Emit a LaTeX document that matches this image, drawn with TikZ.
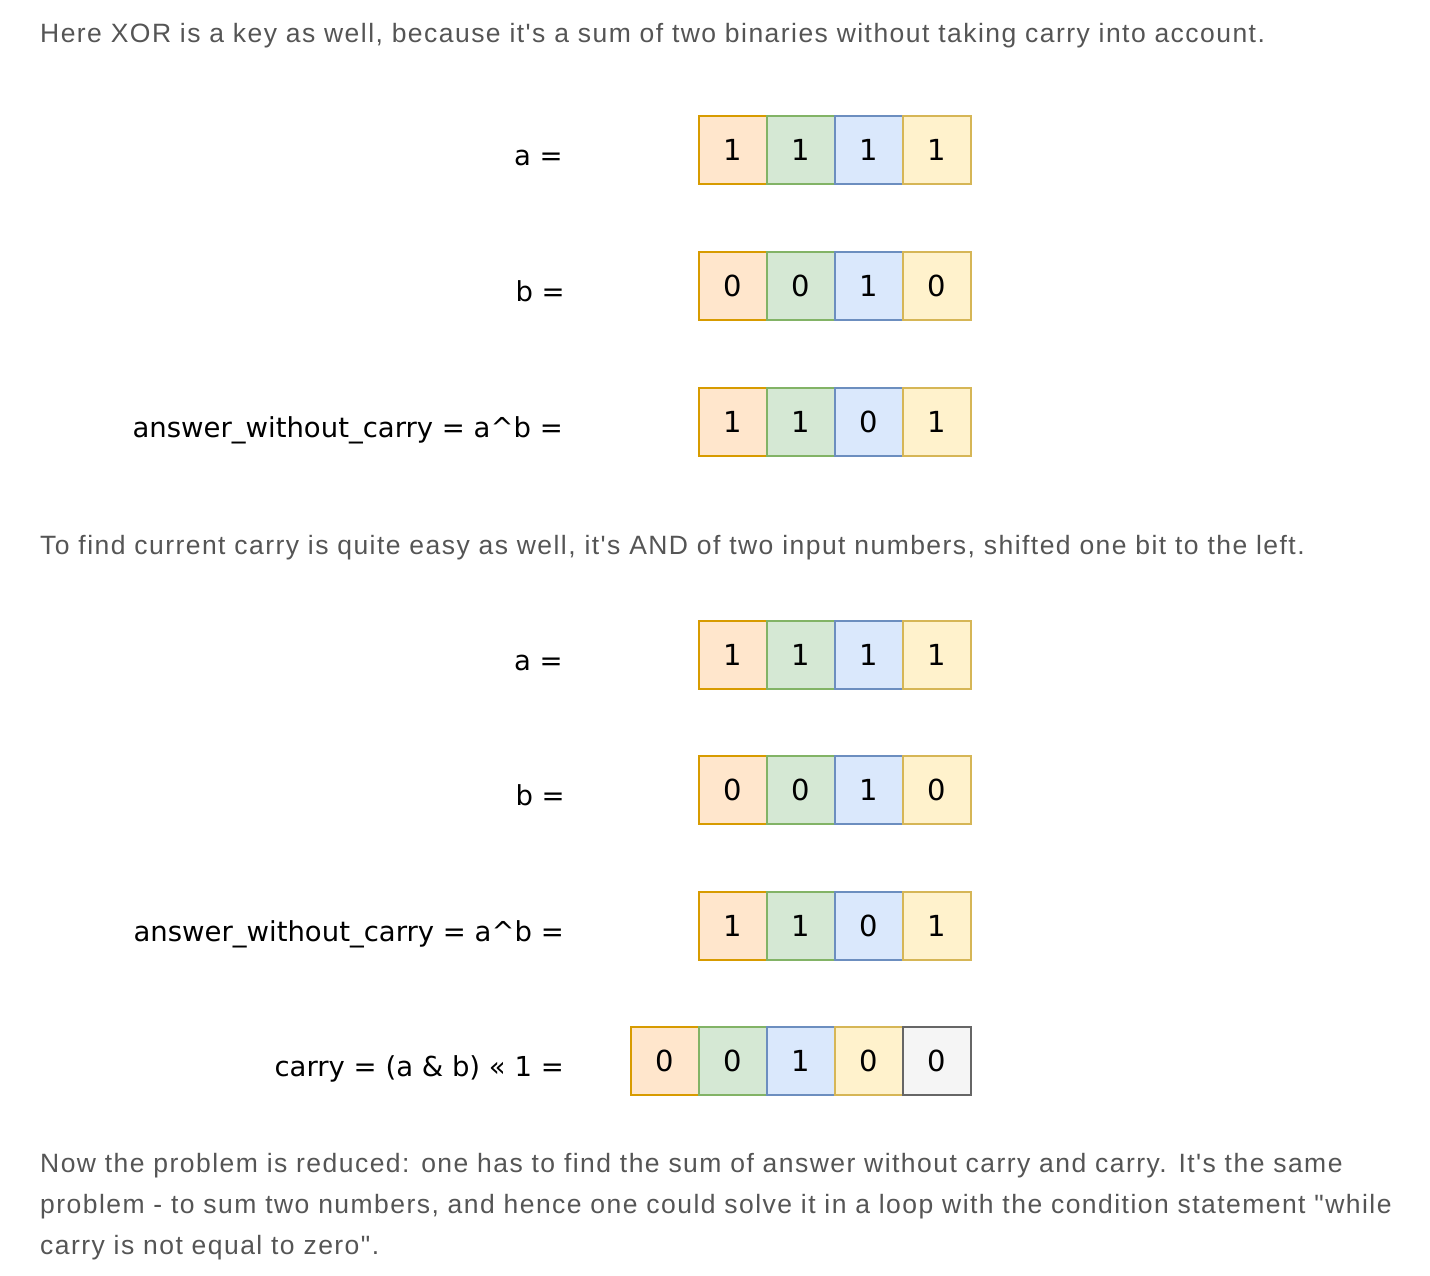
\documentclass[tikz,border=0pt]{standalone}
\usepackage{fontspec}
\setmainfont{Liberation Sans}[Ligatures=TeXOff,LetterSpace=5.5]
\newfontfamily\cellfont{DejaVu Sans}
\usetikzlibrary{positioning}

\definecolor{orfill}{HTML}{FFE6CC}
\definecolor{ordraw}{HTML}{D79B00}
\definecolor{grfill}{HTML}{D5E8D4}
\definecolor{grdraw}{HTML}{82B366}
\definecolor{blfill}{HTML}{DAE8FC}
\definecolor{bldraw}{HTML}{6C8EBF}
\definecolor{yefill}{HTML}{FFF2CC}
\definecolor{yedraw}{HTML}{D6B656}
\definecolor{gyfill}{HTML}{F5F5F5}
\definecolor{gydraw}{HTML}{666666}
\definecolor{textgray}{HTML}{555555}

\begin{document}
\begin{tikzpicture}[x=1pt,y=-1pt,node distance=68pt,
  cell/.style={draw,line width=1.3pt,minimum size=68pt,inner sep=0pt,
    text depth=-3pt,font=\cellfont\fontsize{29}{29}\selectfont},
  orc/.style={cell,fill=orfill,draw=ordraw},
  grc/.style={cell,fill=grfill,draw=grdraw},
  blc/.style={cell,fill=blfill,draw=bldraw},
  yec/.style={cell,fill=yefill,draw=yedraw},
  gyc/.style={cell,fill=gyfill,draw=gydraw},
  lbl/.style={anchor=base east,inner sep=0pt,font=\cellfont\fontsize{27.5}{27.5}\selectfont},
  prose/.style={anchor=base west,inner sep=0pt,text=textgray,font=\fontsize{26.5}{26.5}\selectfont}]
  \useasboundingbox[fill=white] (0,0) rectangle (1430,1275);

  \node[prose] (t1) at (40,42) {Here XOR is a key as well, because it's a sum of two binaries without taking carry into account.};

  % first group
  \node[lbl] (la) at (563,165) {a =};
  \node[orc] (a1) at (733,150) {1};
  \node[grc] (a2) [right of=a1] {1};
  \node[blc] (a3) [right of=a2] {1};
  \node[yec] (a4) [right of=a3] {1};

  \node[lbl] (lb) at (565,301) {b =};
  \node[orc] (b1) at (733,286) {0};
  \node[grc] (b2) [right of=b1] {0};
  \node[blc] (b3) [right of=b2] {1};
  \node[yec] (b4) [right of=b3] {0};

  \node[lbl] (lx) at (563,437) {answer\_without\_carry = a\textasciicircum b =};
  \node[orc] (x1) at (733,422) {1};
  \node[grc] (x2) [right of=x1] {1};
  \node[blc] (x3) [right of=x2] {0};
  \node[yec] (x4) [right of=x3] {1};

  \node[prose] (t2) at (40,554) {To find current carry is quite easy as well, it's AND of two input numbers, shifted one bit to the left.};

  % second group
  \node[lbl] (sla) at (563,670) {a =};
  \node[orc] (sa1) at (733,655) {1};
  \node[grc] (sa2) [right of=sa1] {1};
  \node[blc] (sa3) [right of=sa2] {1};
  \node[yec] (sa4) [right of=sa3] {1};

  \node[lbl] (slb) at (565,805) {b =};
  \node[orc] (sb1) at (733,790) {0};
  \node[grc] (sb2) [right of=sb1] {0};
  \node[blc] (sb3) [right of=sb2] {1};
  \node[yec] (sb4) [right of=sb3] {0};

  \node[lbl] (slx) at (564,941) {answer\_without\_carry = a\textasciicircum b =};
  \node[orc] (sx1) at (733,926) {1};
  \node[grc] (sx2) [right of=sx1] {1};
  \node[blc] (sx3) [right of=sx2] {0};
  \node[yec] (sx4) [right of=sx3] {1};

  \node[lbl] (lc) at (564,1076) {carry = (a \& b) \guillemotleft\ 1 =};
  \node[orc] (c1) at (665,1061) {0};
  \node[grc] (c2) [right of=c1] {0};
  \node[blc] (c3) [right of=c2] {1};
  \node[yec] (c4) [right of=c3] {0};
  \node[gyc] (c5) [right of=c4] {0};

  \node[prose] (t3) at (40,1172) {Now the problem is reduced: one has to find the sum of answer without carry and carry. It's the same};
  \node[prose] (t4) at (40,1213) {problem - to sum two numbers, and hence one could solve it in a loop with the condition statement "while};
  \node[prose] (t5) at (40,1254) {carry is not equal to zero".};
\end{tikzpicture}
\end{document}
